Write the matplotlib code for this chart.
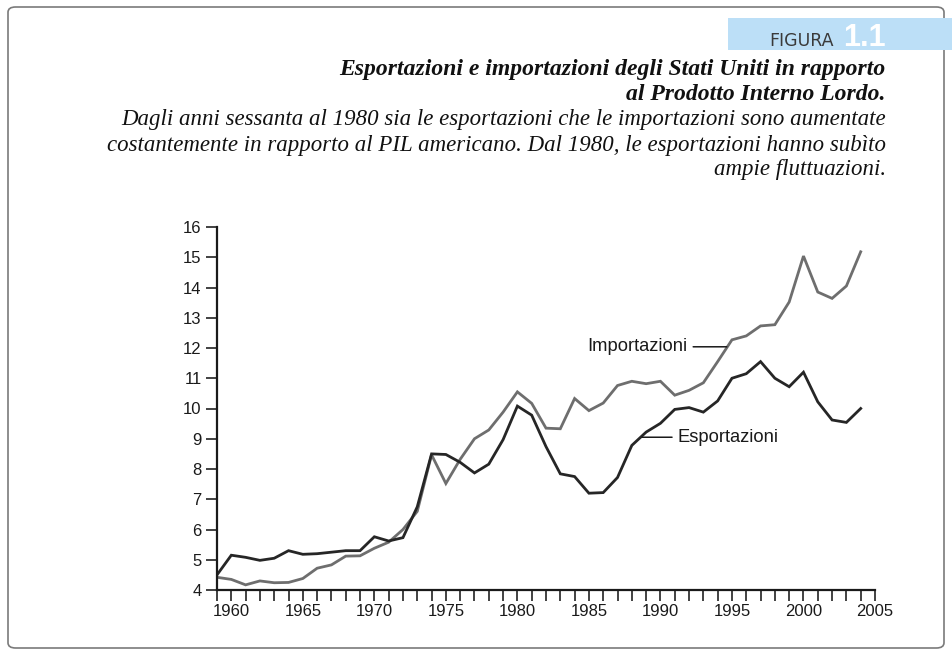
import matplotlib
matplotlib.use("Agg")
import matplotlib.pyplot as plt
from matplotlib.patches import FancyBboxPatch, Rectangle
from matplotlib.ticker import MultipleLocator

years = list(range(1959, 2005))
esportazioni = [4.5, 5.15, 5.08, 4.98, 5.05, 5.3, 5.18, 5.2, 5.25, 5.3, 5.3, 5.76, 5.62, 5.73, 6.75,
                8.5, 8.48, 8.22, 7.87, 8.16, 8.97, 10.08, 9.78, 8.74, 7.84, 7.75, 7.2, 7.22, 7.72, 8.78,
                9.22, 9.51, 9.97, 10.03, 9.88, 10.25, 11.0, 11.15, 11.55, 11.0, 10.72, 11.2, 10.22, 9.62,
                9.54, 10.0]
importazioni = [4.42, 4.35, 4.17, 4.3, 4.24, 4.25, 4.38, 4.72, 4.83, 5.12, 5.13, 5.38, 5.58, 6.0, 6.6,
                8.47, 7.52, 8.32, 9.0, 9.29, 9.88, 10.55, 10.17, 9.35, 9.33, 10.33, 9.93, 10.18, 10.76,
                10.9, 10.82, 10.9, 10.44, 10.6, 10.85, 11.55, 12.27, 12.4, 12.73, 12.77, 13.52, 15.04,
                13.85, 13.64, 14.05, 15.18]
y_ticks = list(range(4, 17))
x_ticks = list(range(1960, 2006, 5))

W, H = 952, 655
fig = plt.figure(figsize=(W / 100, H / 100), dpi=100)
fig.patch.set_facecolor("white")

# outer frame
frame = FancyBboxPatch((8 / W, 7 / H), 936 / W, 641 / H, boxstyle="round,pad=0,rounding_size=0.008",
                       transform=fig.transFigure, fill=False, edgecolor="#7a7a7a", linewidth=1.2)
fig.add_artist(frame)

# header box
fig.add_artist(Rectangle((728 / W, 1 - 50 / H), (952 - 728) / W, 32 / H, transform=fig.transFigure,
                         facecolor="#bcdff7", edgecolor="none"))
fig.text(834 / W, 1 - 46.5 / H, "FIGURA", ha="right", va="baseline", fontsize=12.5,
         family=["Liberation Sans Narrow", "DejaVu Sans"], color="#3a3a3a")
fig.text(843 / W, 1 - 46.5 / H, "1.1", ha="left", va="baseline", fontsize=22, fontweight="bold",
         family=["Liberation Sans", "DejaVu Sans"], color="white")

serif = ["Liberation Serif", "DejaVu Serif"]
fig.text(885 / W, 1 - 70 / H, "Esportazioni e importazioni degli Stati Uniti in rapporto",
         ha="right", va="center", fontsize=17, fontstyle="italic", fontweight="bold", family=serif,
         color="#111111")
fig.text(885 / W, 1 - 95 / H, "al Prodotto Interno Lordo.",
         ha="right", va="center", fontsize=17, fontstyle="italic", fontweight="bold", family=serif,
         color="#111111")
desc = ["Dagli anni sessanta al 1980 sia le esportazioni che le importazioni sono aumentate",
        "costantemente in rapporto al PIL americano. Dal 1980, le esportazioni hanno subìto",
        "ampie fluttuazioni."]
for i, line in enumerate(desc):
    fig.text(886 / W, 1 - (120 + 25 * i) / H, line, ha="right", va="center", fontsize=16.5,
             fontstyle="italic", family=serif, color="#111111")

ax = fig.add_axes([217 / W, 1 - 590 / H, (875 - 217) / W, (590 - 227) / H])
ax.plot(years, importazioni, color="#6e6e6e", lw=2.0, solid_joinstyle="miter")
ax.plot(years, esportazioni, color="#262626", lw=2.0, solid_joinstyle="miter")
ax.set_xlim(1959, 2005)
ax.set_ylim(4, 16)
ax.set_yticks(y_ticks)
ax.set_xticks(x_ticks)
ax.xaxis.set_minor_locator(MultipleLocator(1))
for s in ["top", "right"]:
    ax.spines[s].set_visible(False)
for s in ["left", "bottom"]:
    ax.spines[s].set_linewidth(1.6)
    ax.spines[s].set_color("#1a1a1a")
ax.tick_params(axis="both", which="both", direction="out", length=8, width=1.3, color="#333333",
               labelsize=12, labelcolor="#1a1a1a")
for lab in ax.get_xticklabels() + ax.get_yticklabels():
    lab.set_family(["Liberation Sans", "DejaVu Sans"])
ax.tick_params(axis="x", which="both", pad=2)
ax.tick_params(axis="y", pad=3)
ax.set_facecolor("none")

# annotations
lab_font = dict(fontsize=13.2, family=["Liberation Sans", "DejaVu Sans"], color="#1a1a1a")
ax.annotate("Importazioni", xy=(1994.64, 12.04), xytext=(1991.9, 12.04), ha="right", va="center",
            arrowprops=dict(arrowstyle="-", color="#1a1a1a", lw=1.1, shrinkA=2, shrinkB=0), **lab_font)
ax.annotate("Esportazioni", xy=(1988.7, 9.05), xytext=(1991.2, 9.05), ha="left", va="center",
            arrowprops=dict(arrowstyle="-", color="#1a1a1a", lw=1.1, shrinkA=2, shrinkB=0), **lab_font)

fig.savefig("out.png", dpi=100)
